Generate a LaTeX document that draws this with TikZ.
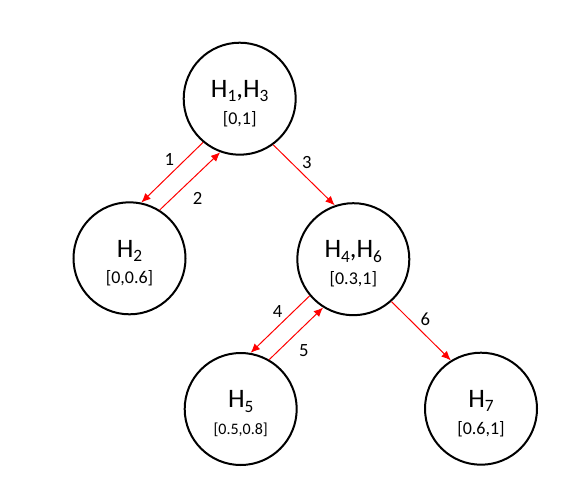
\documentclass[tikz,border=0pt]{standalone}
\usepackage{fontspec}
\setmainfont{Carlito}
\usetikzlibrary{arrows.meta}
\newcommand\rng[2][13.5]{{\fontsize{#1}{#1}\selectfont #2}}
\newcommand\sub[1]{\raisebox{-3.2pt}{\fontsize{13}{13}\selectfont #1}}
\begin{document}
\begin{tikzpicture}[x=0.75pt,y=-0.75pt,
    state/.style={draw,circle,line width=1.5pt,minimum size=84pt,inner sep=0pt,
      align=center,font=\fontsize{20}{20}\selectfont},
    trans/.style={red,line width=0.75pt,-{Latex[length=7pt,width=6pt]}},
    num/.style={text=black,font=\fontsize{14}{14}\selectfont,inner sep=1.5pt}]
  \useasboundingbox (0,0) rectangle (564,493);
  % states
  \node[state] (h13) at (239.7,98.7) {\rule{0pt}{20pt}H\sub{1},H\sub{3}\\\rng{[0,1]}};
  \node[state] (h2) at (129.5,258.3) {\rule{0pt}{20pt}H\sub{2}\\\rng{[0,0.6]}};
  \node[state] (h46) at (353.3,259.2) {\rule{0pt}{20pt}H\sub{4},H\sub{6}\\\rng{[0.3,1]}};
  \node[state] (h5) at (240.7,409) {\rule{0pt}{20pt}H\sub{5}\\\rng[12]{[0.5,0.8]}};
  \node[state] (h7) at (481,408.7) {\rule{0pt}{20pt}H\sub{7}\\\rng{[0.6,1]}};
  % transitions
  \draw[trans] (h13.230) -- node[num,pos=0.43,above left] {1} (h2.78);
  \draw[trans] (h2.58) -- node[num,pos=0.43,below right,inner sep=5pt] {2} (h13.250);
  \draw[trans] (h13.306) -- node[num,pos=0.43,above right] {3} (h46.109);
  \draw[trans] (h46.220) -- node[num,pos=0.42,above left] {4} (h5.80);
  \draw[trans] (h5.60) -- node[num,pos=0.42,below right,inner sep=5pt] {5} (h46.238);
  \draw[trans] (h46.312) -- node[num,pos=0.45,above right] {6} (h7.122);
\end{tikzpicture}
\end{document}
